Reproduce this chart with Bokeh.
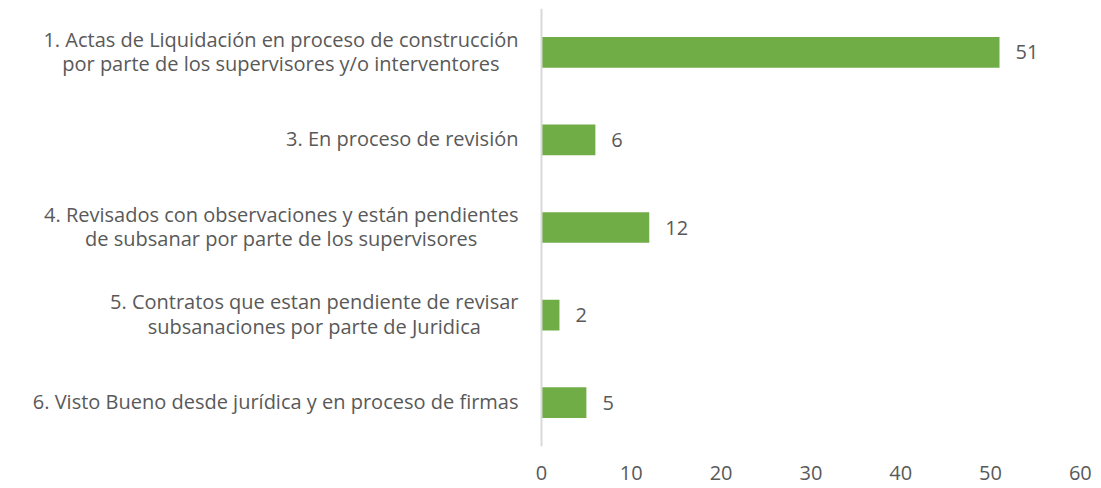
from bokeh.plotting import figure
from bokeh.models import ColumnDataSource, FactorRange, Range1d, FixedTicker, Span
from bokeh.embed import file_html
from bokeh.resources import INLINE
from bokeh.core.properties import value

categories = [
    "1. Actas de Liquidación en proceso de construcción\npor parte de los supervisores y/o interventores",
    "3. En proceso de revisión",
    "4. Revisados con observaciones y están pendientes\nde subsanar por parte de los supervisores",
    "5. Contratos que estan pendiente de revisar\nsubsanaciones por parte de Juridica",
    "6. Visto Bueno desde jurídica y en proceso de firmas",
]
counts = [51, 6, 12, 2, 5]
x_ticks = [0, 10, 20, 30, 40, 50, 60]

FONT = "Open Sans"
FS = "20px"
TXT = "#595959"

src = ColumnDataSource(dict(cat=categories, val=counts, lab=[str(v) for v in counts],
                            zero=[0] * len(counts)))

p = figure(width=1095, height=486, output_backend="svg", toolbar_location=None,
           y_range=FactorRange(factors=list(reversed(categories))),
           x_range=Range1d(-60.24, 61.69))
p.min_border_left = 0
p.min_border_right = 0
p.min_border_top = 8
p.min_border_bottom = 40
p.outline_line_color = None
p.grid.visible = False
p.yaxis.visible = False

p.hbar(y="cat", right="val", left=0, height=0.35, source=src,
       fill_color="#70AD47", line_color=None)
p.text(x="val", y="cat", text="lab", source=src, x_offset=16,
       text_align="left", text_baseline="middle", text_color=TXT,
       text_font=value(FONT), text_font_size=FS)
p.text(x="zero", y="cat", text="cat", source=src, x_offset=-23, y_offset=-1,
       text_align="center", text_baseline="middle", anchor="center_right",
       text_color=TXT, text_font=value(FONT), text_font_size=FS,
       text_line_height=0.9)

p.add_layout(Span(location=0, dimension="height", line_color="#d9d9d9", line_width=2))

xa = p.xaxis[0]
xa.ticker = FixedTicker(ticks=x_ticks)
xa.axis_line_color = None
xa.major_tick_line_color = None
xa.minor_tick_line_color = None
xa.major_tick_out = 0
xa.major_tick_in = 0
xa.major_label_standoff = 19
xa.major_label_text_font = FONT
xa.major_label_text_font_size = FS
xa.major_label_text_color = TXT

open("out.html", "w").write(file_html(p, INLINE))
